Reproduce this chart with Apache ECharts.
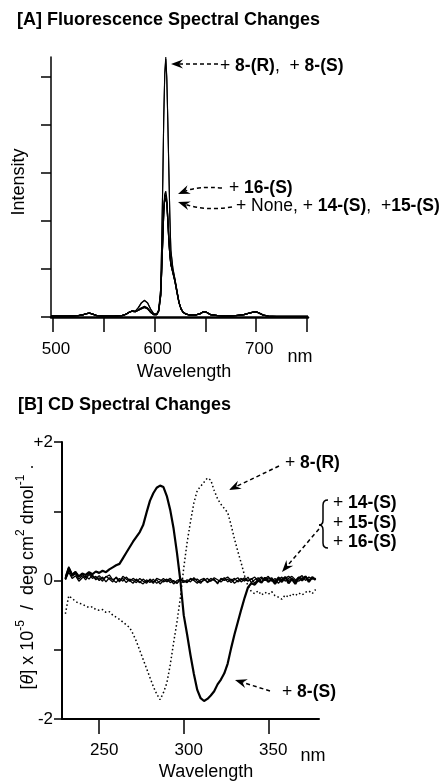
<!DOCTYPE html>
<html>
<head>
<meta charset="utf-8">
<script src="https://cdn.jsdelivr.net/npm/echarts@6.0.0/dist/echarts.min.js"></script>
<style>
  html, body { margin: 0; padding: 0; background: #fff; }
  #chart { width: 440px; height: 781px; }
</style>
</head>
<body>
<div id="chart"></div>
<script>
// ---------------- [A] Fluorescence data ----------------
const flWavelength = [498,505,515,525,530,533,536,539,543,550,560,568,572,575,578,581,584,587,590,593,596,599,602,604,606,607,608,609,610,611,612,613,614,615,616,618,620,622,624,626,628,631,635,640,645,648,651,655,662,670,680,688,693,697,700,703,707,712,720,730,740,751];
const fl8R  = [0.02,0.02,0.02,0.03,0.05,0.07,0.08,0.06,0.03,0.02,0.02,0.03,0.06,0.10,0.13,0.12,0.20,0.30,0.35,0.30,0.17,0.07,0.06,0.15,0.60,1.60,2.80,4.20,5.10,5.42,5.00,4.10,3.10,2.10,1.40,1.02,0.80,0.56,0.31,0.17,0.10,0.06,0.04,0.04,0.07,0.11,0.10,0.05,0.03,0.02,0.03,0.05,0.08,0.10,0.11,0.08,0.04,0.02,0.01,0.01,0.01,0.01];
const fl8S  = [0.02,0.02,0.02,0.03,0.05,0.07,0.08,0.06,0.03,0.02,0.02,0.03,0.06,0.10,0.13,0.12,0.19,0.29,0.34,0.29,0.16,0.07,0.06,0.14,0.58,1.55,2.75,4.15,5.05,5.38,4.95,4.05,3.05,2.08,1.38,1.00,0.79,0.55,0.30,0.17,0.10,0.06,0.04,0.04,0.07,0.11,0.10,0.05,0.03,0.02,0.03,0.05,0.08,0.10,0.11,0.08,0.04,0.02,0.01,0.01,0.01,0.01];
const flNone = [0.02,0.02,0.02,0.03,0.05,0.07,0.08,0.06,0.03,0.02,0.02,0.03,0.06,0.10,0.12,0.11,0.14,0.18,0.20,0.18,0.10,0.05,0.05,0.12,0.45,1.00,1.60,2.20,2.48,2.52,2.38,2.00,1.60,1.30,1.10,0.92,0.75,0.52,0.30,0.17,0.10,0.06,0.04,0.04,0.07,0.11,0.10,0.05,0.03,0.02,0.03,0.05,0.08,0.10,0.11,0.08,0.04,0.02,0.01,0.01,0.01,0.01];
const fl14S = [0.02,0.02,0.02,0.03,0.05,0.07,0.08,0.06,0.03,0.02,0.02,0.03,0.06,0.10,0.12,0.11,0.14,0.18,0.21,0.18,0.10,0.05,0.05,0.12,0.46,1.02,1.62,2.22,2.50,2.55,2.40,2.02,1.62,1.31,1.10,0.93,0.75,0.52,0.30,0.17,0.10,0.06,0.04,0.04,0.07,0.11,0.10,0.05,0.03,0.02,0.03,0.05,0.08,0.10,0.11,0.08,0.04,0.02,0.01,0.01,0.01,0.01];
const fl15S = [0.02,0.02,0.02,0.03,0.05,0.07,0.08,0.06,0.03,0.02,0.02,0.03,0.06,0.10,0.12,0.11,0.14,0.17,0.20,0.17,0.10,0.05,0.05,0.12,0.45,1.01,1.61,2.21,2.49,2.53,2.39,2.01,1.61,1.30,1.09,0.92,0.74,0.51,0.30,0.17,0.10,0.06,0.04,0.04,0.07,0.11,0.10,0.05,0.03,0.02,0.03,0.05,0.08,0.10,0.11,0.08,0.04,0.02,0.01,0.01,0.01,0.01];
const fl16S = [0.02,0.02,0.02,0.03,0.05,0.07,0.08,0.06,0.03,0.02,0.02,0.03,0.06,0.10,0.12,0.11,0.15,0.19,0.22,0.19,0.11,0.05,0.05,0.13,0.48,1.05,1.66,2.27,2.56,2.62,2.46,2.06,1.65,1.33,1.12,0.94,0.76,0.53,0.31,0.17,0.10,0.06,0.04,0.04,0.07,0.11,0.10,0.05,0.03,0.02,0.03,0.05,0.08,0.10,0.11,0.08,0.04,0.02,0.01,0.01,0.01,0.01];
const flXTicks = [500,550,600,650,700,750];
const flXLabels = [500,600,700];
const flYTicks = [0,1,2,3,4,5];

// ---------------- [B] CD data ----------------
const cdWavelength = [230,232,234,236,238,240,242,244,246,248,250,252,254,256,258,260,262,264,266,268,270,272,274,276,278,280,282,284,286,288,290,292,294,296,298,300,302,304,306,308,310,312,314,316,318,320,322,324,326,328,330,332,334,336,338,340,342,344,346,348,350,352,354,356,358,360,362,364,366,368,370,372,374,376,378];
const cd8S = [0.02,0.18,0.08,0.12,0.06,0.10,0.08,0.12,0.09,0.13,0.11,0.14,0.12,0.16,0.19,0.22,0.24,0.32,0.40,0.48,0.56,0.63,0.70,0.80,0.98,1.15,1.26,1.34,1.37,1.35,1.22,1.02,0.75,0.40,0.00,-0.50,-0.78,-1.08,-1.35,-1.58,-1.70,-1.74,-1.71,-1.66,-1.60,-1.50,-1.43,-1.34,-1.20,-0.98,-0.78,-0.60,-0.42,-0.25,-0.10,-0.04,-0.06,0.00,-0.03,0.04,-0.02,0.02,-0.05,0.03,-0.02,0.05,-0.04,0.02,-0.05,0.04,0.00,0.06,-0.02,0.05,0.01];
const cd8R = [-0.48,-0.22,-0.26,-0.30,-0.33,-0.34,-0.37,-0.39,-0.38,-0.42,-0.43,-0.42,-0.46,-0.45,-0.50,-0.53,-0.56,-0.60,-0.64,-0.68,-0.77,-0.88,-1.01,-1.14,-1.27,-1.40,-1.53,-1.64,-1.72,-1.62,-1.48,-1.22,-0.90,-0.60,-0.25,0.18,0.55,0.85,1.12,1.30,1.36,1.42,1.48,1.45,1.30,1.18,1.10,1.04,0.98,0.80,0.60,0.42,0.25,0.07,-0.08,-0.16,-0.19,-0.15,-0.21,-0.17,-0.20,-0.16,-0.22,-0.24,-0.27,-0.21,-0.24,-0.19,-0.22,-0.18,-0.21,-0.17,-0.15,-0.19,-0.13];
const cd14S = [0.04,0.16,0.06,0.10,0.02,0.07,0.01,0.09,0.03,0.06,0.00,0.05,-0.02,0.04,0.01,-0.03,0.03,-0.01,0.05,0.00,-0.04,0.02,-0.02,-0.05,0.01,-0.03,0.02,-0.04,-0.01,0.03,-0.02,0.01,-0.05,0.00,0.02,-0.03,0.01,-0.02,0.04,-0.01,-0.04,0.02,-0.02,0.03,0.00,-0.03,0.01,0.04,-0.02,0.02,-0.04,0.00,0.03,-0.01,0.05,-0.03,0.01,0.04,-0.02,0.02,0.06,-0.01,0.03,-0.04,0.02,0.05,0.00,0.03,-0.02,0.04,0.07,0.00,0.05,0.02,0.03];
const cd15S = [0.01,0.12,0.03,0.07,-0.01,0.04,0.06,0.02,0.08,0.01,0.04,-0.01,0.06,0.02,-0.02,0.05,0.00,0.03,-0.03,0.02,0.00,-0.03,0.03,-0.01,-0.04,0.02,-0.02,0.01,-0.05,0.00,0.02,-0.03,0.00,-0.04,0.03,-0.01,-0.03,0.02,0.00,-0.04,0.01,0.03,-0.03,0.00,0.02,-0.05,0.03,0.00,0.02,-0.03,0.01,0.04,-0.02,0.02,-0.01,0.03,-0.04,0.02,0.05,0.00,0.02,0.04,-0.02,0.01,0.05,-0.01,0.03,0.06,0.01,-0.01,0.03,0.05,-0.01,0.04,0.02];
const cd16S = [0.06,0.20,0.09,0.13,0.05,0.09,0.04,0.11,0.06,0.03,0.07,0.02,0.05,0.08,0.01,0.04,-0.02,0.06,0.02,-0.01,0.03,0.00,-0.03,0.02,-0.02,0.00,-0.04,0.03,0.01,-0.02,0.00,0.03,-0.02,-0.04,0.01,0.00,-0.02,0.03,0.01,0.02,-0.02,0.00,0.03,-0.01,0.04,0.01,-0.02,0.02,0.05,0.00,0.03,-0.02,0.01,0.04,0.00,0.02,0.05,-0.01,0.03,0.00,0.04,0.02,-0.01,0.05,0.01,0.03,0.06,0.02,0.00,0.05,0.03,0.06,0.01,0.04,0.01];
const cdXTicks = [250,300,350];
const cdYTicks = [-2,-1,0,1,2];
const cdYLabels = {'2':'+2','0':'0','-2':'-2'};

// ---------------- build ----------------
const FONT = '"Liberation Sans", Arial, Helvetica, sans-serif';
const zip = (xs, ys) => xs.map((x, i) => [x, ys[i]]);

function lineSeries(name, xs, ys, axis, style) {
  return {
    name, type: 'line', xAxisIndex: axis, yAxisIndex: axis,
    data: zip(xs, ys), showSymbol: false, symbol: 'none', silent: true,
    lineStyle: Object.assign({ color: '#000', width: 1.2 }, style),
    z: 3
  };
}

const strokeStyle = { stroke: '#000', lineWidth: 1.5, fill: null };

function arrow(points, tip, bez) {
  const from = bez || points;
  const dx = tip[0] - from[0], dy = tip[1] - from[1];
  const L = Math.hypot(dx, dy), ux = dx / L, uy = dy / L, px = -uy, py = ux;
  const len = 12, w = 4.5, notch = 8;
  const end = [tip[0] - ux * notch, tip[1] - uy * notch];
  const els = [];
  const st = { stroke: '#000', lineWidth: 1.5, lineDash: [4, 3], fill: null };
  if (bez) {
    els.push({ type: 'bezierCurve', shape: { x1: points[0], y1: points[1], cpx1: bez[0], cpy1: bez[1], x2: end[0], y2: end[1] }, style: st });
  } else {
    els.push({ type: 'line', shape: { x1: points[0], y1: points[1], x2: end[0], y2: end[1] }, style: st });
  }
  els.push({ type: 'polygon', shape: { points: [
    [tip[0], tip[1]],
    [tip[0] - ux * len + px * w, tip[1] - uy * len + py * w],
    [end[0], end[1]],
    [tip[0] - ux * len - px * w, tip[1] - uy * len - py * w]
  ] }, style: { fill: '#000' } });
  return els;
}

function qcurve(x1, y1, cx, cy, x2, y2) {
  return { type: 'bezierCurve', shape: { x1, y1, cpx1: cx, cpy1: cy, x2, y2 }, style: strokeStyle };
}
function seg(x1, y1, x2, y2) {
  return { type: 'line', shape: { x1, y1, x2, y2 }, style: strokeStyle };
}

const annRich = {
  n: { fontFamily: FONT, fontSize: 17.5, fontWeight: 'normal', fill: '#000' },
  b: { fontFamily: FONT, fontSize: 17.5, fontWeight: 'bold', fill: '#000' }
};
function ann(x, y, text) {
  return { type: 'text', x, y, style: { text, rich: annRich, align: 'left', verticalAlign: 'middle', fill: '#000' } };
}
function plain(x, y, text, opts) {
  return { type: 'text', x, y, rotation: (opts && opts.rot) || 0,
    style: Object.assign({ text, fontFamily: FONT, fontSize: 18, fill: '#000', align: 'center', verticalAlign: 'middle' }, opts && opts.style) };
}

const graphics = [
  plain(17, 20, '[A] Fluorescence Spectral Changes', { style: { fontWeight: 'bold', align: 'left' } }),
  plain(18, 405, '[B] CD Spectral Changes', { style: { fontWeight: 'bold', align: 'left' } }),
  plain(19, 182, 'Intensity', { rot: Math.PI / 2 }),
  plain(184, 372, 'Wavelength'),
  plain(300, 357, 'nm'),
  plain(206, 772, 'Wavelength'),
  plain(313, 756, 'nm'),
  {
    type: 'text', x: 26, y: 577, rotation: Math.PI / 2,
    style: {
      text: '{n|[}{i|θ}{n|] x 10}{s|-5}{n|  /  deg cm}{s|2}{n| dmol}{s|-1}{n| .}',
      align: 'center', verticalAlign: 'middle',
      rich: {
        n: { fontFamily: FONT, fontSize: 18, lineHeight: 22, verticalAlign: 'bottom', fill: '#000' },
        i: { fontFamily: FONT, fontSize: 18, fontStyle: 'italic', lineHeight: 22, verticalAlign: 'bottom', fill: '#000' },
        s: { fontFamily: FONT, fontSize: 12, lineHeight: 12, verticalAlign: 'top', fill: '#000' }
      }
    }
  },
  ann(220, 66, '{n|+ }{b|8-(R)}{n|,  + }{b|8-(S)}'),
  ann(229, 188, '{n|+ }{b|16-(S)}'),
  ann(236, 206, '{n|+ None, + }{b|14-(S)}{n|,  +}{b|15-(S)}'),
  ann(285, 463, '{n|+ }{b|8-(R)}'),
  ann(333, 503, '{n|+ }{b|14-(S)}'),
  ann(333, 523, '{n|+ }{b|15-(S)}'),
  ann(333, 542, '{n|+ }{b|16-(S)}'),
  ann(282, 692, '{n|+ }{b|8-(S)}'),
  // brace
  qcurve(328, 500, 323, 500, 323, 505),
  seg(323, 505, 323, 520),
  qcurve(323, 520, 323, 525, 319, 525),
  qcurve(319, 525, 323, 525, 323, 530),
  seg(323, 530, 323, 543),
  qcurve(323, 543, 323, 548, 328, 548),
  ...arrow([218, 64], [171, 64], null),
  ...arrow([222, 188], [178, 194], [198, 186]),
  ...arrow([232, 207], [178, 202], [205, 211]),
  ...arrow([279, 466], [229, 490], null),
  ...arrow([319, 529], [282, 572], null),
  ...arrow([270, 691], [235, 680], null)
];

const axisText = { fontFamily: FONT, fontSize: 17, color: '#000' };

const option = {
  animation: false,
  backgroundColor: '#fff',
  grid: [
    { left: 51, top: 57, width: 257, height: 260 },
    { left: 62, top: 442, width: 257, height: 277 }
  ],
  xAxis: [
    { gridIndex: 0, type: 'value', min: 498, max: 751,
      axisLine: { show: true, onZero: false, lineStyle: { color: '#000', width: 2.5 } },
      axisTick: { show: true, customValues: flXTicks, length: 15, lineStyle: { color: '#000', width: 1.5 } },
      axisLabel: Object.assign({ customValues: flXLabels, margin: 24, padding: [0, 0, 0, 6] }, axisText),
      splitLine: { show: false } },
    { gridIndex: 1, type: 'value', min: 228, max: 380,
      axisLine: { show: true, onZero: false, lineStyle: { color: '#000', width: 2 } },
      axisTick: { show: true, customValues: cdXTicks, length: 15, lineStyle: { color: '#000', width: 1.5 } },
      axisLabel: Object.assign({ customValues: cdXTicks, margin: 23, padding: [0, 0, 0, 10] }, axisText),
      splitLine: { show: false } }
  ],
  yAxis: [
    { gridIndex: 0, type: 'value', min: 0, max: 5.42,
      axisLine: { show: true, onZero: false, lineStyle: { color: '#000', width: 1.5 } },
      axisTick: { show: true, customValues: flYTicks, length: 10, lineStyle: { color: '#000', width: 1.5 } },
      axisLabel: { show: false },
      splitLine: { show: false } },
    { gridIndex: 1, type: 'value', min: -2, max: 2,
      axisLine: { show: true, onZero: false, lineStyle: { color: '#000', width: 2 } },
      axisTick: { show: true, customValues: cdYTicks, length: 8, lineStyle: { color: '#000', width: 1.5 } },
      axisLabel: Object.assign({ customValues: [-2, 0, 2], margin: 9,
        formatter: v => cdYLabels[String(v)] || '' }, axisText),
      splitLine: { show: false } }
  ],
  series: [
    lineSeries('None', flWavelength, flNone, 0, { width: 1.3 }),
    lineSeries('14-(S)', flWavelength, fl14S, 0, { width: 1.3 }),
    lineSeries('15-(S)', flWavelength, fl15S, 0, { width: 1.3 }),
    lineSeries('16-(S)', flWavelength, fl16S, 0, { width: 1.3 }),
    lineSeries('8-(R)', flWavelength, fl8R, 0, { width: 1.1 }),
    lineSeries('8-(S)', flWavelength, fl8S, 0, { width: 1.1 }),
    lineSeries('CD 14-(S)', cdWavelength, cd14S, 1, { width: 1.3 }),
    lineSeries('CD 15-(S)', cdWavelength, cd15S, 1, { width: 1.3 }),
    lineSeries('CD 16-(S)', cdWavelength, cd16S, 1, { width: 1.3 }),
    lineSeries('CD 8-(R)', cdWavelength, cd8R, 1, { width: 1.5, type: [1.5, 2.5] }),
    lineSeries('CD 8-(S)', cdWavelength, cd8S, 1, { width: 2.2 })
  ],
  graphic: { elements: graphics }
};

const chart = echarts.init(document.getElementById('chart'), null, { renderer: 'canvas' });
chart.setOption(option);
</script>
</body>
</html>
